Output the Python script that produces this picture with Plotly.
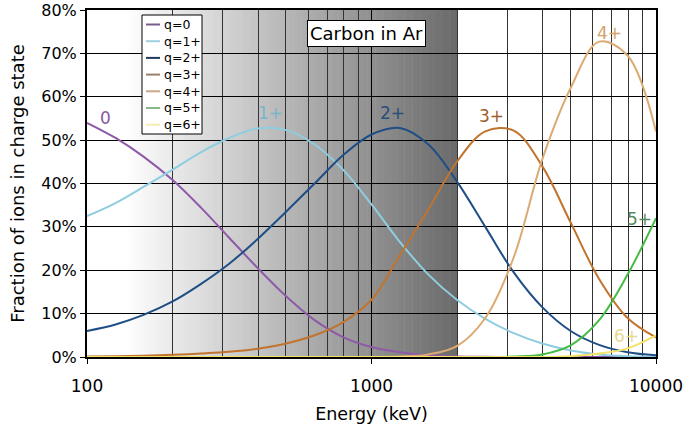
import math
import plotly.graph_objects as go

# ---------------- data ----------------
series_names = ["q=0", "q=1+", "q=2+", "q=3+", "q=4+", "q=5+", "q=6+"]
series_colors = ["#8e5aa8", "#8fcde0", "#1f4e86", "#c0742e", "#dcaa72", "#44bb44", "#f2e266"]
legend_colors = ["#7a5a8a", "#9fd0e0", "#203a5a", "#9a8068", "#c8a888", "#88b888", "#f4eeb0"]

# energies (keV), 0.1-decade steps
energy = [100, 126, 158, 200, 251, 316, 398, 501, 631, 794, 1000,
          1259, 1585, 1995, 2512, 3162, 3981, 5012, 6310, 7943, 10000]

q0 = [0.54, 0.505, 0.462, 0.408, 0.345, 0.275, 0.205, 0.14, 0.085, 0.046, 0.023,
      0.011, 0.004, 0.0012, 0.0003, 0.0, 0.0, 0.0, 0.0, 0.0, 0.0]
q1 = [0.325, 0.355, 0.392, 0.432, 0.472, 0.505, 0.527, 0.523, 0.49, 0.432, 0.352,
      0.265, 0.19, 0.132, 0.088, 0.055, 0.031, 0.015, 0.006, 0.002, 0.0005]
q2 = [0.06, 0.075, 0.097, 0.128, 0.168, 0.215, 0.272, 0.335, 0.40, 0.465, 0.513,
      0.528, 0.49, 0.405, 0.30, 0.195, 0.115, 0.06, 0.028, 0.011, 0.004]
q3 = [0.001, 0.002, 0.003, 0.005, 0.008, 0.012, 0.019, 0.031, 0.05, 0.08, 0.132,
      0.235, 0.34, 0.45, 0.52, 0.522, 0.44, 0.31, 0.18, 0.09, 0.045]
q4 = [0.0, 0.0, 0.0, 0.0, 0.0, 0.0, 0.0, 0.0, 0.0, 0.0, 0.0,
      0.001, 0.006, 0.025, 0.09, 0.23, 0.455, 0.62, 0.727, 0.695, 0.52]
q5 = [0.0, 0.0, 0.0, 0.0, 0.0, 0.0, 0.0, 0.0, 0.0, 0.0, 0.0,
      0.0, 0.0, 0.0, 0.0, 0.001, 0.006, 0.027, 0.085, 0.19, 0.32]
q6 = [0.0, 0.0, 0.0, 0.0, 0.0, 0.0, 0.0, 0.0, 0.0, 0.0, 0.0,
      0.0, 0.0, 0.0, 0.0, 0.0, 0.0, 0.002, 0.008, 0.02, 0.05]

fractions = [q0, q1, q2, q3, q4, q5, q6]

curve_labels = ["0", "1+", "2+", "3+", "4+", "5+", "6+"]
curve_label_E = [116, 440, 1190, 2640, 6870, 8750, 7850]
curve_label_F = [0.552, 0.5625, 0.5625, 0.556, 0.747, 0.318, 0.048]
curve_label_colors = ["#8a5a9e", "#7ab4cc", "#2a4e7a", "#a0602a", "#d2a26a", "#5a8a5a", "#e8d890"]

x_tick_vals = [100, 1000, 10000]
x_tick_text = ["100", "1000", "10000"]

title_text = "Carbon in Ar"
gradient_end_E = 2000

FONT = "DejaVu Sans"

# ---------------- geometry helpers ----------------
W, H = 686, 428
ML, MR, MT, MB = 87, 30, 10, 71
PW, PH = W - ML - MR, H - MT - MB

def fx(px):
    return (px - ML) / PW

def fy(py):
    return (H - MB - py) / PH

fig = go.Figure()

for name, col, F in zip(series_names, series_colors, fractions):
    fig.add_trace(go.Scatter(
        x=energy, y=F, mode="lines", name=name,
        line=dict(color=col, width=2, shape="spline", smoothing=1.0),
        showlegend=False,
    ))

shapes = []
# background gradient (white -> grey) from 100 keV to 2000 keV
grad_end_frac = math.log10(gradient_end_E / 100) / 2
n = 140
start_px = 125
end_px = ML + grad_end_frac * PW
for i in range(n):
    a = i / n * grad_end_frac
    b = (i + 1) / n * grad_end_frac + 0.001
    px = ML + (a + b) / 2 * PW
    t = max(0.0, (px - start_px) / (end_px - start_px))
    g = int(round(255 - t * (255 - 106)))
    shapes.append(dict(type="rect", xref="paper", yref="paper",
                       x0=a, x1=min(b, grad_end_frac), y0=0, y1=1,
                       fillcolor=f"rgb({g},{g},{g})", line=dict(width=0), layer="below"))

# custom legend box
lx0, lx1, ly0, ly1 = 142, 202, 15, 134
shapes.append(dict(type="rect", xref="paper", yref="paper",
                   x0=fx(lx0), x1=fx(lx1), y0=fy(ly1), y1=fy(ly0),
                   fillcolor="white", line=dict(color="black", width=1), layer="above"))
annotations = []
row0, row_step = 24.5, 16.7
for i, (name, col) in enumerate(zip(series_names, legend_colors)):
    ry = row0 + i * row_step
    shapes.append(dict(type="line", xref="paper", yref="paper",
                       x0=fx(146), x1=fx(160), y0=fy(ry), y1=fy(ry),
                       line=dict(color=col, width=2), layer="above"))
    annotations.append(dict(x=fx(162), y=fy(ry), xref="paper", yref="paper",
                            text=name, showarrow=False, xanchor="left", yanchor="middle",
                            font=dict(family=FONT, size=12.5, color="black")))

# curve labels
for lab, e, f, c in zip(curve_labels, curve_label_E, curve_label_F, curve_label_colors):
    annotations.append(dict(x=math.log10(e), y=f, xref="x", yref="y", text=lab,
                            showarrow=False, xanchor="center", yanchor="middle",
                            font=dict(family=FONT, size=17, color=c)))

# title box
annotations.append(dict(x=fx(366), y=fy(33.5), xref="paper", yref="paper", text=title_text,
                        showarrow=False, xanchor="center", yanchor="middle",
                        bgcolor="white", bordercolor="black", borderwidth=1, borderpad=2,
                        font=dict(family=FONT, size=18, color="black")))

fig.update_layout(
    width=W, height=H,
    margin=dict(l=ML, r=MR, t=MT, b=MB, autoexpand=False),
    paper_bgcolor="white", plot_bgcolor="white",
    font=dict(family=FONT, size=16, color="black"),
    shapes=shapes, annotations=annotations,
    showlegend=False,
)
fig.update_xaxes(
    type="log", range=[2, 4], automargin=False,
    tickvals=x_tick_vals, ticktext=x_tick_text,
    showgrid=True, gridcolor="black", gridwidth=1,
    showline=True, linecolor="black", linewidth=2, mirror=True,
    ticks="outside", ticklen=5, tickcolor="black",
    ticklabelstandoff=8,
    tickfont=dict(size=17),
    minor=dict(dtick="D1", showgrid=True, gridcolor="#333333", gridwidth=1, ticks=""),
    title=dict(text="Energy (keV)", font=dict(size=17.5), standoff=12),
    zeroline=False,
)
fig.update_yaxes(
    range=[0, 0.8], dtick=0.1, tickformat=".0%", automargin=False,
    showgrid=True, gridcolor="black", gridwidth=1,
    showline=True, linecolor="black", linewidth=2, mirror=True,
    ticks="outside", ticklen=5, tickcolor="black",
    tickfont=dict(size=16),
    title=dict(text="Fraction of ions in charge state", font=dict(size=18), standoff=12),
    zeroline=False,
)

fig.write_html("out.html")
